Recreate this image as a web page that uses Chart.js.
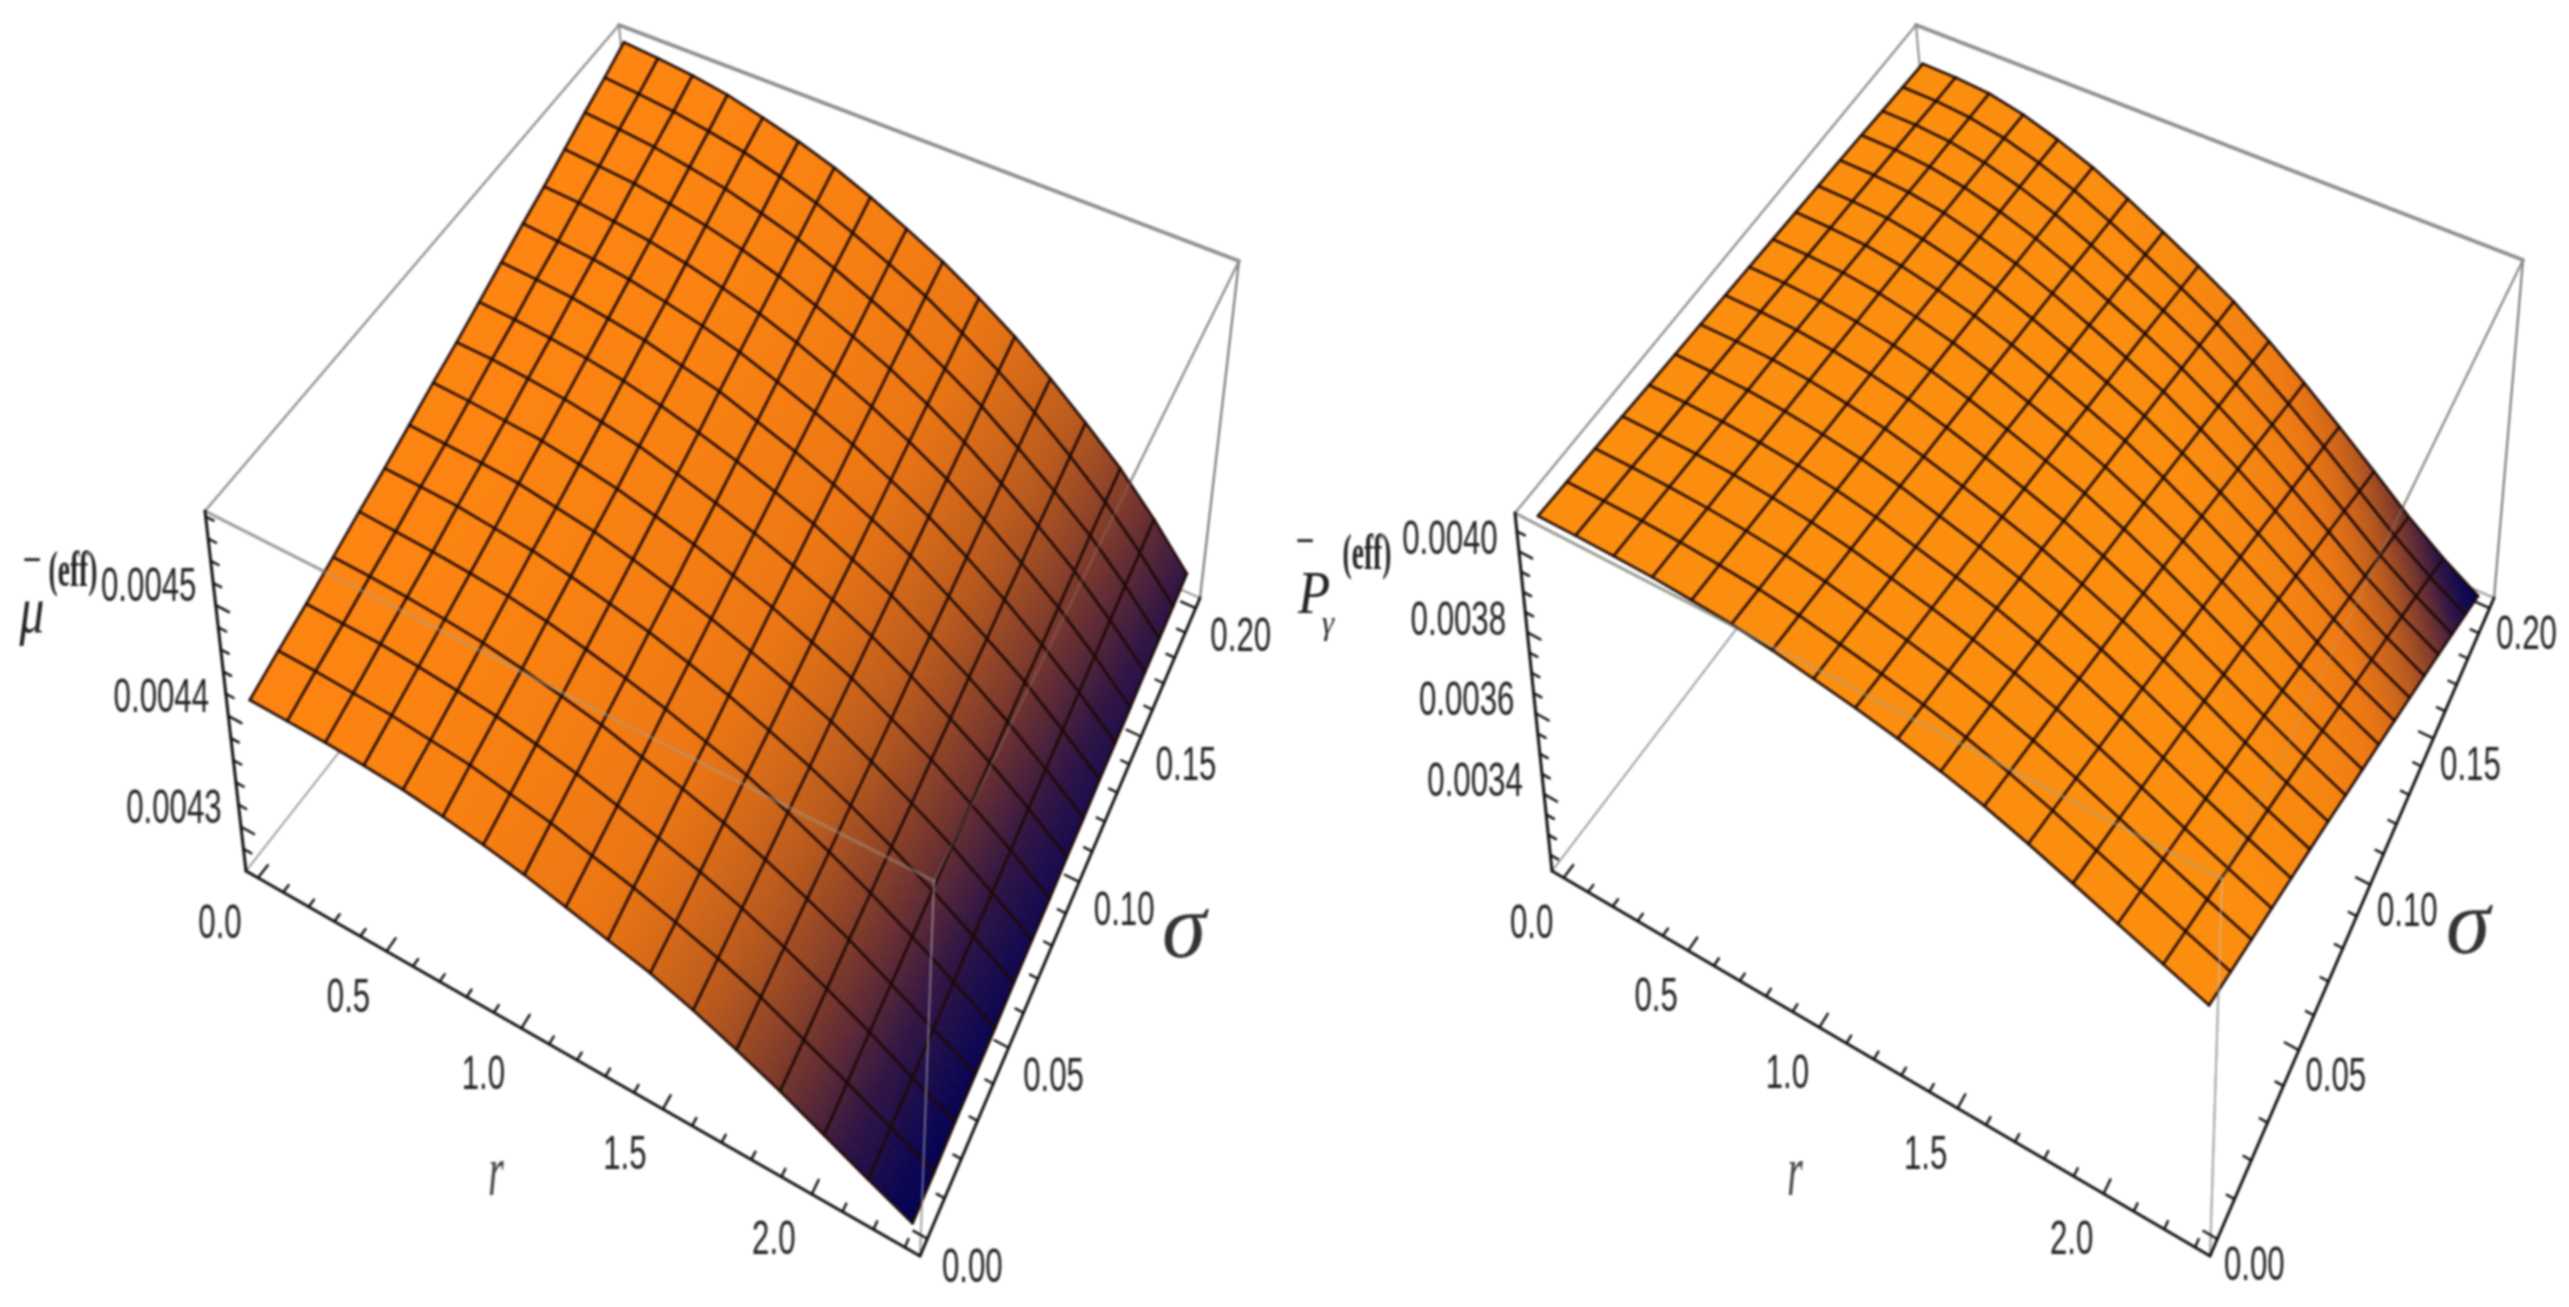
<!DOCTYPE html>
<html><head><meta charset="utf-8">
<style>html,body{margin:0;padding:0;background:#fff;overflow:hidden}canvas{display:block;filter:blur(0.9px)}</style>
<script src="https://cdn.jsdelivr.net/npm/chart.js@4"></script></head>
<body><div style="width:2569px;height:1307px"><canvas id="c" width="2569" height="1307"></canvas></div>
<script>
const rMax=2.3, sMax=0.2, N=17;
const rTicks=[0,0.5,1,1.5,2], sTicks=[0,0.05,0.1,0.15,0.2];
const zTicksL=[0.0043,0.0044,0.0045], zTicksR=[0.0034,0.0036,0.0038,0.0040];
// surface heights in units of 1e-6: one row per r mesh line, each running sigma = 0 ... 0.2
const muEffByR=[
[4409,4420,4430,4441,4452,4462,4473,4484,4494,4505,4516,4527,4537,4548,4559,4569,4580],
[4408,4419,4429,4440,4450,4461,4471,4482,4493,4503,4514,4524,4535,4545,4556,4566,4577],
[4407,4417,4428,4438,4448,4459,4469,4479,4490,4500,4511,4521,4531,4542,4552,4562,4573],
[4405,4415,4425,4435,4445,4455,4466,4476,4486,4496,4506,4516,4526,4536,4546,4556,4567],
[4402,4411,4421,4431,4441,4451,4460,4470,4480,4490,4500,4509,4519,4529,4539,4549,4558],
[4397,4407,4416,4425,4435,4444,4454,4463,4473,4482,4491,4501,4510,4520,4529,4539,4548],
[4391,4400,4409,4418,4427,4436,4445,4454,4463,4472,4482,4491,4500,4509,4518,4527,4536],
[4384,4393,4401,4410,4418,4427,4435,4444,4452,4461,4469,4478,4487,4495,4504,4512,4521],
[4375,4383,4391,4399,4408,4416,4424,4432,4440,4448,4456,4464,4472,4480,4488,4496,4504],
[4366,4374,4381,4389,4396,4404,4411,4419,4426,4434,4441,4449,4456,4464,4471,4479,4486],
[4357,4363,4370,4377,4384,4390,4397,4404,4411,4417,4424,4431,4438,4445,4451,4458,4465],
[4345,4351,4357,4363,4369,4375,4382,4388,4394,4400,4406,4412,4418,4424,4430,4436,4442],
[4331,4337,4342,4347,4352,4358,4363,4368,4374,4379,4384,4390,4395,4400,4405,4411,4416],
[4316,4320,4325,4330,4334,4339,4343,4348,4352,4357,4361,4366,4370,4375,4379,4384,4388],
[4299,4303,4307,4310,4314,4318,4322,4325,4329,4333,4337,4340,4344,4348,4352,4355,4359],
[4282,4285,4287,4290,4293,4296,4298,4301,4304,4306,4309,4312,4314,4317,4320,4322,4325],
[4266,4267,4269,4270,4271,4273,4274,4275,4277,4278,4280,4281,4282,4284,4285,4286,4288]];
const pGammaEffByR=[
[4074,4071,4068,4065,4061,4058,4055,4052,4049,4046,4043,4040,4037,4034,4030,4027,4024],
[4073,4070,4067,4063,4060,4057,4054,4051,4048,4044,4041,4038,4035,4032,4029,4025,4022],
[4071,4068,4064,4060,4057,4053,4050,4046,4042,4039,4035,4032,4028,4024,4021,4017,4014],
[4068,4063,4058,4054,4049,4044,4040,4035,4030,4026,4021,4016,4012,4007,4002,3998,3993],
[4061,4055,4049,4043,4037,4030,4024,4018,4012,4006,3999,3993,3987,3981,3975,3969,3962],
[4053,4045,4037,4029,4021,4013,4005,3997,3989,3981,3973,3965,3957,3949,3941,3933,3925],
[4040,4030,4020,4010,4000,3990,3979,3969,3959,3949,3939,3929,3919,3909,3898,3888,3878],
[4022,4010,3998,3986,3973,3961,3949,3937,3925,3912,3900,3888,3876,3863,3851,3839,3827],
[4004,3989,3975,3961,3946,3932,3918,3903,3889,3875,3860,3846,3832,3818,3803,3789,3775],
[3983,3966,3950,3933,3917,3900,3884,3867,3851,3834,3818,3801,3785,3768,3752,3735,3719],
[3958,3939,3920,3901,3881,3862,3843,3824,3805,3786,3767,3748,3729,3710,3691,3672,3653],
[3929,3907,3885,3864,3842,3820,3799,3777,3755,3734,3712,3690,3668,3647,3625,3603,3582],
[3894,3870,3846,3821,3797,3773,3749,3724,3700,3676,3652,3628,3603,3579,3555,3531,3507],
[3856,3829,3803,3776,3749,3723,3696,3669,3643,3616,3590,3563,3536,3510,3483,3456,3430],
[3817,3788,3759,3730,3701,3672,3643,3614,3584,3555,3526,3497,3468,3439,3410,3381,3352],
[3779,3748,3717,3687,3656,3625,3594,3563,3532,3501,3470,3439,3409,3378,3347,3316,3285],
[3741,3709,3677,3645,3613,3581,3549,3516,3484,3452,3420,3388,3356,3324,3292,3260,3228]];
const panels=[
 {zmin:.00426,zmax:.004585,byR:muEffByR,zTicks:zTicksL,zMinor:.00002,
  top:{L:[205,511],F:[934,881],R:[1239,261],B:[619,25]},bot:{L:[246,871],F:[920,1256],R:[1200,598],B:[650,355]},
  shade:(u,v)=>{const d=(1-u)+.1*v;return 1-Math.exp(-Math.pow(d/.32,1.3));}, base:[255,134,17],
  zo:[-67,-17],ro:[-38,47],so:[45,30]},
 {zmin:.00321,zmax:.004095,byR:pGammaEffByR,zTicks:zTicksR,zMinor:.00005,
  top:{L:[1515,513],F:[2222,879],R:[2523,260],B:[1916,25]},bot:{L:[1552,871],F:[2210,1256],R:[2494,598],B:[1945,355]},
  shade:(u,v)=>{const d=(1-u)+.75*(1-v);return 1-Math.exp(-Math.pow(d/.24,1.4));}, base:[253,143,14],
  zo:[-69,-11],ro:[-32,47],so:[37,28]}
];
panels.forEach(p=>{p.z=(i,j)=>p.byR[i][j]*1e-6;});
function homog(q){const[x0,y0]=q.L,[x1,y1]=q.F,[x2,y2]=q.R,[x3,y3]=q.B;
 const dx1=x1-x2,dx2=x3-x2,sx=x0-x1+x2-x3,dy1=y1-y2,dy2=y3-y2,sy=y0-y1+y2-y3,den=dx1*dy2-dx2*dy1;
 const g=(sx*dy2-dx2*sy)/den,h=(dx1*sy-sx*dy1)/den,a=x1-x0+g*x1,b=x3-x0+h*x3,d=y1-y0+g*y1,e=y3-y0+h*y3;
 return(u,v)=>{const t=g*u+h*v+1;return[(a*u+b*v+x0)/t,(d*u+e*v+y0)/t];};}
panels.forEach(p=>{p.ht=homog(p.top);p.hb=homog(p.bot);
 p.boxUVW=(u,v,w)=>{const a=p.ht(u,v),b=p.hb(u,v);return{x:b[0]+(a[0]-b[0])*w,y:b[1]+(a[1]-b[1])*w};};
 p.proj=(r,s,z)=>p.boxUVW(.02+.96*r/rMax,.02+.96*s/sMax,(z-p.zmin)/(p.zmax-p.zmin));});
const datasets=[];
function line(pts,color,width,extra){datasets.push(Object.assign({data:pts,showLine:true,borderColor:color,borderWidth:width,pointRadius:0,fill:false,tension:0,borderCapStyle:'round',borderJoinStyle:'round'},extra||{}));}
const gap={x:NaN,y:NaN};
const idx=[...Array(N).keys()];
panels.forEach(p=>{
 const b=(u,v,w)=>p.boxUVW(u,v,w);
 [[b(0,0,0),b(0,1,0),'#9a9a9a',2],[b(0,1,0),b(1,1,0),'#9a9a9a',2],[b(0,0,1),b(0,1,1),'#8a8f8f',2.2],[b(0,1,1),b(1,1,1),'#8e9090',4],[b(0,1,1),b(0,1,0),'#8a8a8a',2],[b(1,1,1),b(1,1,0),'#7d7d7d',2.2],[b(1,0,1),b(1,1,1),'#808080',2.2],[b(0,0,1),b(1,0,1),'#9a9a9a',3],[b(1,0,1),b(1,0,0),'#8a8a8a',2]].forEach(l=>line([l[0],l[1]],l[2],l[3],{order:5}));
 datasets.push({data:[],surfacePanel:p,order:4,pointRadius:0});
 idx.forEach(j=>line(idx.map(i=>p.proj(rMax*i/16,sMax*j/16,p.z(i,j))),'rgba(32,10,6,0.95)',2.8,{order:3}));
 idx.forEach(i=>line(idx.map(j=>p.proj(rMax*i/16,sMax*j/16,p.z(i,j))),'rgba(32,10,6,0.95)',2.8,{order:3}));
 line([b(0,0,1),b(1,0,1)],'rgba(165,165,150,0.4)',3.4,{order:2});
 line([b(1,0,1),b(1,0,0)],'rgba(200,200,205,0.5)',2,{order:2});
 line([b(1,0,1),b(1,1,1)],'rgba(170,170,160,0.25)',2,{order:2});
 line([b(0,0,0),b(0,0,1)],'#111',3,{order:1});
 line([b(0,0,0),b(1,0,0)],'#111',3,{order:1});
 line([b(1,0,0),b(1,1,0)],'#111',3,{order:1});
 const pts=[];const tick=(a,c,len)=>{const d={x:c.x-a.x,y:c.y-a.y},m=Math.hypot(d.x,d.y);pts.push(a,{x:a.x+d.x/m*len,y:a.y+d.y/m*len},gap);};
 for(let k=0;k<=23;k++){const r=k/10,M=k%5==0;const u=.02+.96*r/rMax;tick(b(u,0,0),b(u,.3,0),M?16:9);}
 for(let k=0;k<=20;k++){const s=k/100,M=k%5==0;const v=.02+.96*s/sMax;tick(b(1,v,0),b(.7,v,0),M?16:9);}
 const zs=Math.round(p.zmin/p.zMinor);for(let k=zs;;k++){const z=k*p.zMinor;if(z>p.zmax)break;if(z<p.zmin)continue;const w=(z-p.zmin)/(p.zmax-p.zmin);const M=p.zTicks.some(t=>Math.abs(t-z)<1e-9);tick(b(0,0,w),b(.3,0,w),M?15:9);}
 line(pts,'#111',2.4,{order:1});
});
function mix(a,b,t){return[a[0]+(b[0]-a[0])*t,a[1]+(b[1]-a[1])*t,a[2]+(b[2]-a[2])*t];}
function palette(t,base){t=Math.max(0,Math.min(1,t));const st=[[3,3,85],[50,22,68],[120,55,45],[185,90,30],[235,118,20],base];const f=t*5,i=Math.min(4,Math.floor(f));const c=mix(st[i],st[i+1],f-i);return`rgb(${c[0]|0},${c[1]|0},${c[2]|0})`;}
const surface={id:'surface',beforeDatasetDraw(ch,args){const p=ch.data.datasets[args.index].surfacePanel;if(!p)return;const c=ch.ctx,X=ch.scales.x,Y=ch.scales.y,sub=8;
 c.save();c.lineWidth=1;
 const P=(i,j)=>{const q=p.proj(rMax*i/16,sMax*j/16,p.z(i,j));return[X.getPixelForValue(q.x),Y.getPixelForValue(q.y)];};
  for(let j=0;j<16;j++)for(let i=0;i<16;i++){const A=P(i,j),B=P(i+1,j),C=P(i+1,j+1),D=P(i,j+1);
   const at=(a,b)=>[(1-a)*(1-b)*A[0]+a*(1-b)*B[0]+a*b*C[0]+(1-a)*b*D[0],(1-a)*(1-b)*A[1]+a*(1-b)*B[1]+a*b*C[1]+(1-a)*b*D[1]];
   for(let m=0;m<sub;m++)for(let n=0;n<sub;n++){const a0=m/sub,a1=(m+1)/sub,b0=n/sub,b1=(n+1)/sub;
    const col=palette(p.shade((i+(m+.5)/sub)/16,(j+(n+.5)/sub)/16),p.base);c.fillStyle=col;c.strokeStyle=col;c.beginPath();
    let q=at(a0,b0);c.moveTo(q[0],q[1]);q=at(a1,b0);c.lineTo(q[0],q[1]);q=at(a1,b1);c.lineTo(q[0],q[1]);q=at(a0,b1);c.lineTo(q[0],q[1]);c.closePath();c.fill();c.stroke();}
  }
 c.restore();},
 afterDraw(ch){const c=ch.ctx,X=ch.scales.x,Y=ch.scales.y;
  const txt=(s,x,y,font,sx,col)=>{c.save();c.font=font;c.fillStyle=col||'#222';c.textAlign='center';c.textBaseline='middle';c.translate(X.getPixelForValue(x),Y.getPixelForValue(y));c.scale(sx||1,1);c.fillText(s,0,0);c.restore();};
  const F='48px "Liberation Sans"';
  panels.forEach(p=>{
   p.zTicks.forEach(z=>{const q2=p.boxUVW(0,0,(z-p.zmin)/(p.zmax-p.zmin));txt(z.toFixed(4),q2.x+p.zo[0],q2.y+p.zo[1],F,.65);});
   rTicks.forEach(r=>{const q=p.boxUVW(.02+.96*r/rMax,0,0);txt(r.toFixed(1),q.x+p.ro[0],q.y+p.ro[1],F,.65);});
   sTicks.forEach(s=>{const q=p.boxUVW(1,.02+.96*s/sMax,0);txt(s.toFixed(2),q.x+p.so[0],q.y+p.so[1],F,.65);});
  });
  const I='italic 94px "Liberation Serif"',R='italic 72px "Liberation Serif"';
  txt('σ',1184,932,I,.95,'#333');txt('σ',2468,928,I,.95,'#333');txt('r',496,1176,R,.55,'#444');txt('r',1795,1176,R,.55,'#444');
  txt('μ',32,615,'italic 66px "Liberation Serif"',.75);txt('−',32,562,'40px "Liberation Sans"',.8);txt('(eff)',73,573,'bold 50px "Liberation Serif"',.55);
  txt('P',1314,597,'italic 62px "Liberation Serif"',.85);txt('−',1305,543,'40px "Liberation Sans"',.8);txt('γ',1328,625,'italic 34px "Liberation Serif"',.9);txt('(eff)',1367,556,'bold 50px "Liberation Serif"',.55);
 }};
new Chart(document.getElementById('c'),{type:'scatter',data:{datasets},plugins:[surface],options:{responsive:false,animation:false,layout:{padding:0},
 plugins:{legend:{display:false},tooltip:{enabled:false},title:{display:false}},
 scales:{x:{type:'linear',min:0,max:2569,display:false},y:{type:'linear',min:0,max:1307,reverse:true,display:false}}}});
</script></body></html>
